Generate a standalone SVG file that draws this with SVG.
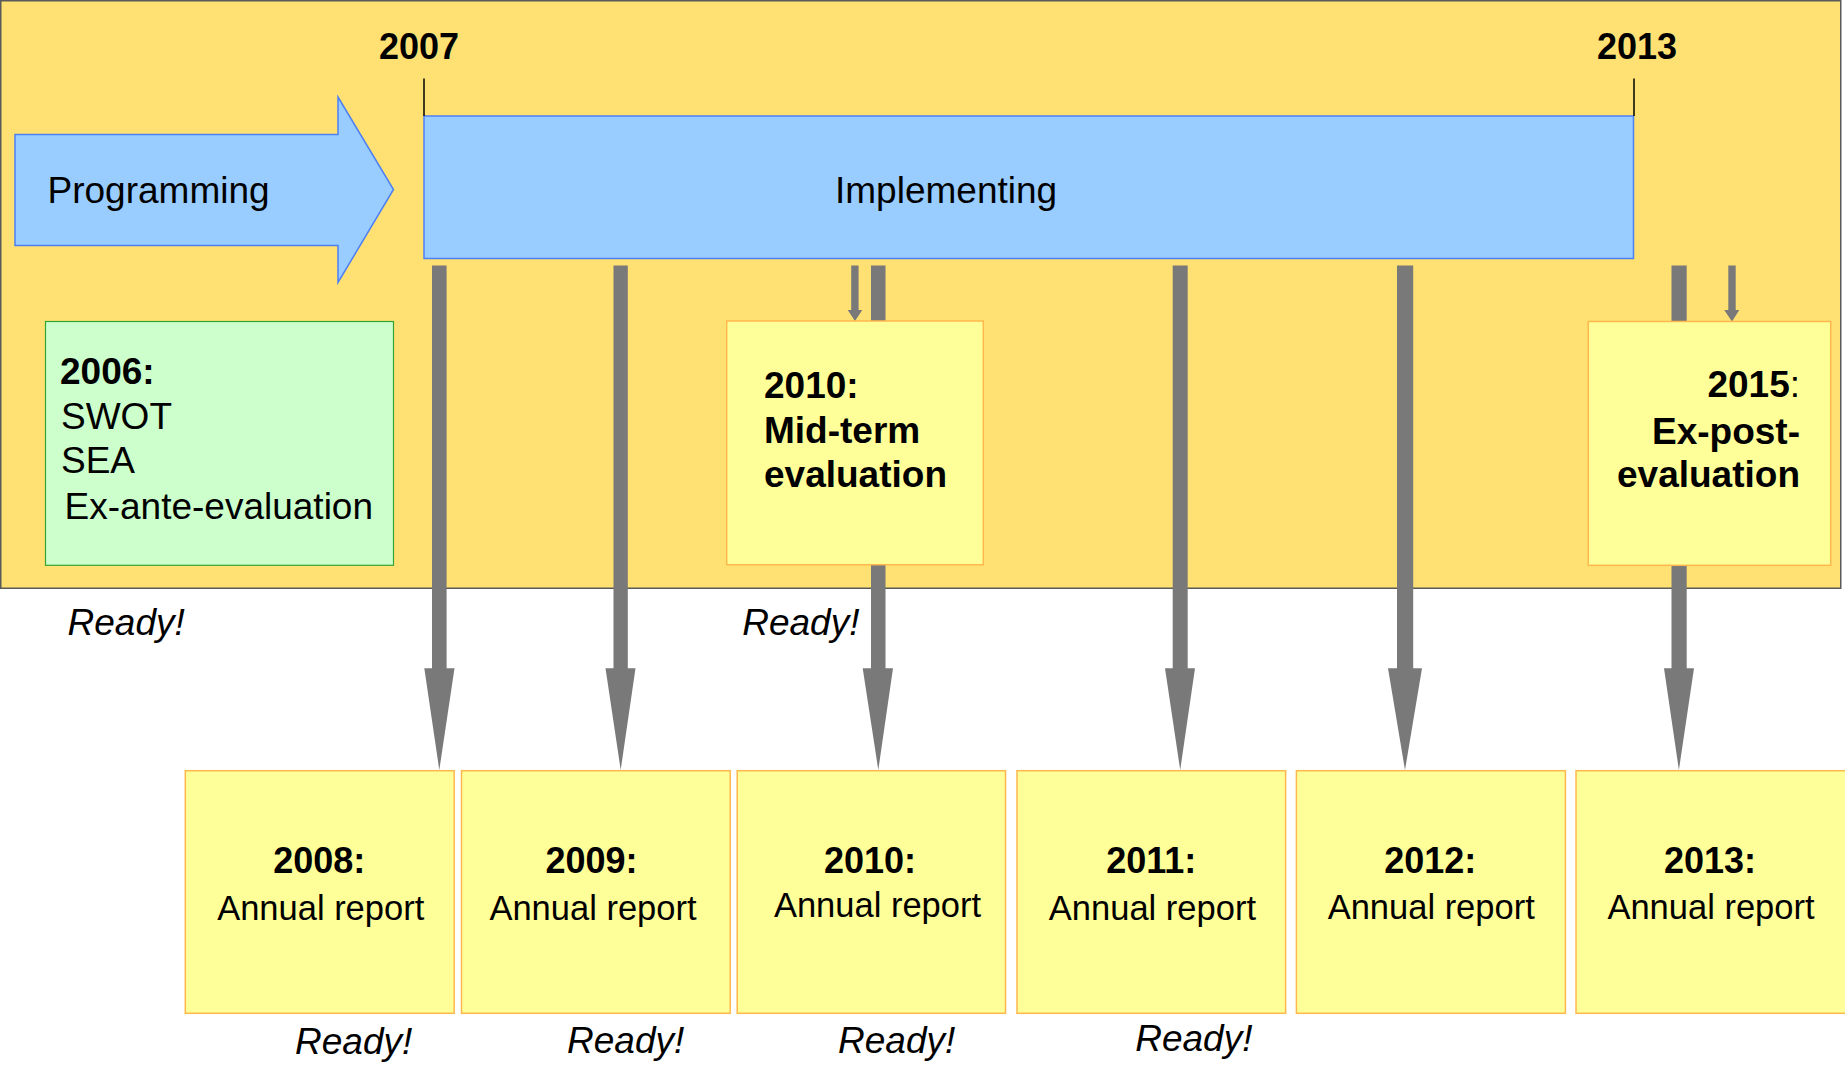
<svg xmlns="http://www.w3.org/2000/svg" width="1845" height="1067" viewBox="0 0 1845 1067">
<style>
text{font-family:"Liberation Sans",Arial,sans-serif;fill:#000}
.b{font-weight:bold}
.yr{font-size:36px;font-weight:bold}
.big{font-size:37px}
.ar{font-size:34.5px}
.rd{font-size:37px;font-style:italic}
.box{fill:#FFFF99;stroke:#FFB84D;stroke-width:1.5}
.gr{fill:#797979}
.blue{fill:#99CCFF;stroke:#4D7FF5;stroke-width:1.5}
.tick{stroke:#000;stroke-width:1.5}
</style>
<rect id="background" x="0.75" y="0.75" width="1840" height="587.5" fill="#FFE173" stroke="#5A5A5A" stroke-width="1.5"/>
<g id="programming">
<polygon class="blue" points="15,134.5 338,134.5 338,97 393.5,189.5 338,282.5 338,245.5 15,245.5"/>
<text class="big" x="47.5" y="202.8">Programming</text>
</g>
<g id="implementing">
<rect class="blue" x="424" y="116" width="1209.5" height="142.5"/>
<text class="big" x="835" y="202.7">Implementing</text>
</g>
<g id="year-2007">
<line class="tick" x1="424" y1="78.5" x2="424" y2="116"/>
<text class="yr" x="419" y="59.3" text-anchor="middle">2007</text>
</g>
<g id="year-2013">
<line class="tick" x1="1634" y1="78.5" x2="1634" y2="116"/>
<text class="yr" x="1637" y="59.3" text-anchor="middle">2013</text>
</g>
<g id="ex-ante">
<rect x="45.5" y="321.5" width="348" height="243.8" fill="#CCFFCC" stroke="#33A333" stroke-width="1.2"/>
<text class="big b" x="60" y="384">2006:</text>
<text class="big" x="61" y="429.4">SWOT</text>
<text class="big" x="61" y="473.4">SEA</text>
<text class="big" x="64.5" y="518.6">Ex-ante-evaluation</text>
</g>
<g id="connectors">
<polygon class="gr" points="432,265.6 446.6,265.6 446.6,668.3 454.5,668.3 439.3,770 424.3,668.3 432,668.3"/>
<polygon class="gr" points="613.5,265.6 627.8,265.6 627.8,668.3 635.5,668.3 620.7,770 605.5,668.3 613.5,668.3"/>
<polygon class="gr" points="871,265.6 885.5,265.6 885.5,668.3 893,668.3 878.3,770 862.7,668.3 871,668.3"/>
<polygon class="gr" points="1172.7,265.6 1187.7,265.6 1187.7,668.3 1195,668.3 1180.2,770 1165,668.3 1172.7,668.3"/>
<polygon class="gr" points="1397,265.6 1413.2,265.6 1413.2,668.3 1422,668.3 1405,770 1388,668.3 1397,668.3"/>
<polygon class="gr" points="1671.5,265.6 1686.7,265.6 1686.7,668.3 1694,668.3 1678.9,770 1664,668.3 1671.5,668.3"/>
<polygon class="gr" points="851.2,265.6 858.6,265.6 858.6,310 862.3,310 855,321 847.7,310 851.2,310"/>
<polygon class="gr" points="1728.3,265.6 1735.7,265.6 1735.7,310 1739.3,310 1732,321.5 1724.2,310 1728.3,310"/>
</g>
<g id="mid-term">
<rect class="box" x="726.7" y="321" width="256.6" height="243.7"/>
<text class="big b" x="764" y="398">2010:</text>
<text class="big b" x="764" y="443">Mid-term</text>
<text class="big b" x="764" y="486.7">evaluation</text>
</g>
<g id="ex-post">
<rect class="box" x="1588.3" y="321.5" width="242.4" height="243.8"/>
<text class="big" x="1800" y="397.2" text-anchor="end"><tspan class="b">2015</tspan>:</text>
<text class="big b" x="1800" y="444" text-anchor="end">Ex-post-</text>
<text class="big b" x="1800" y="486.8" text-anchor="end">evaluation</text>
</g>
<g id="report-2008">
<rect class="box" x="185.3" y="770.7" width="268.9" height="242.6"/>
<text class="yr" x="319.2" y="872.7" text-anchor="middle">2008:</text>
<text class="ar" x="320.7" y="920" text-anchor="middle">Annual report</text>
</g>
<g id="report-2009">
<rect class="box" x="461.5" y="770.7" width="268.7" height="242.6"/>
<text class="yr" x="591.5" y="872.7" text-anchor="middle">2009:</text>
<text class="ar" x="593" y="920" text-anchor="middle">Annual report</text>
</g>
<g id="report-2010">
<rect class="box" x="737.2" y="770.7" width="268.3" height="242.6"/>
<text class="yr" x="870" y="872.7" text-anchor="middle">2010:</text>
<text class="ar" x="877.5" y="917.3" text-anchor="middle">Annual report</text>
</g>
<g id="report-2011">
<rect class="box" x="1017" y="770.7" width="268.6" height="242.6"/>
<text class="yr" x="1151.3" y="872.7" text-anchor="middle">2011:</text>
<text class="ar" x="1152.4" y="920" text-anchor="middle">Annual report</text>
</g>
<g id="report-2012">
<rect class="box" x="1296.4" y="770.7" width="269" height="242.6"/>
<text class="yr" x="1430.3" y="872.7" text-anchor="middle">2012:</text>
<text class="ar" x="1431.2" y="919.3" text-anchor="middle">Annual report</text>
</g>
<g id="report-2013">
<rect class="box" x="1576" y="770.7" width="270" height="242.6"/>
<text class="yr" x="1710" y="872.7" text-anchor="middle">2013:</text>
<text class="ar" x="1711" y="919.3" text-anchor="middle">Annual report</text>
</g>
<g id="ready-labels">
<text class="rd" x="67.5" y="635">Ready!</text>
<text class="rd" x="742.2" y="635">Ready!</text>
<text class="rd" x="295" y="1054">Ready!</text>
<text class="rd" x="567" y="1053">Ready!</text>
<text class="rd" x="838" y="1053.3">Ready!</text>
<text class="rd" x="1135.2" y="1050.7">Ready!</text>
</g>
</svg>
